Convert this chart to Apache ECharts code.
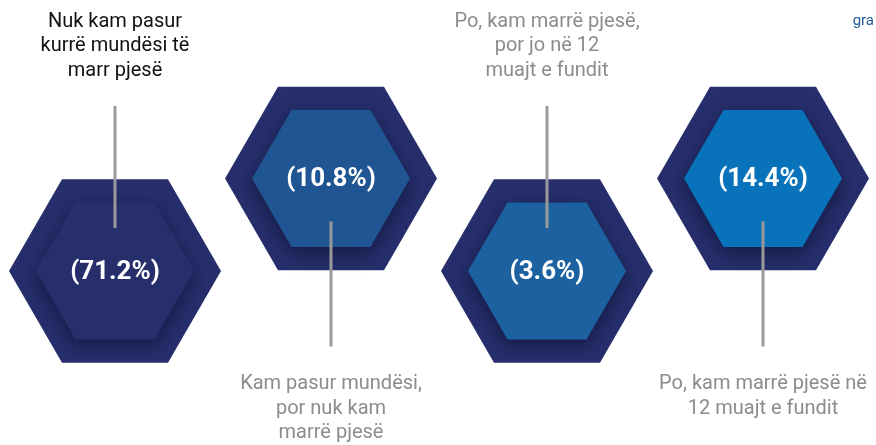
<!DOCTYPE html>
<html>
<head>
    <meta charset="utf-8">
    <title>ECharts</title>
    <script src="https://cdn.jsdelivr.net/npm/echarts@6/dist/echarts.min.js"></script>
    <style>
        html, body { margin: 0; padding: 0; width: 100%; height: 100%; background: #fff; }
    </style>
</head>
<body>
    <div id="main" style="width: 876px;height:445px;"></div>
    <script type="text/javascript">

// data
var categories = [
    'Nuk kam pasur\nkurrë mundësi të\nmarr pjesë',
    'Kam pasur mundësi,\npor nuk kam\nmarrë pjesë',
    'Po, kam marrë pjesë,\npor jo në 12\nmuajt e fundit',
    'Po, kam marrë pjesë në\n12 muajt e fundit'
];
var shares = [71.2, 10.8, 3.6, 14.4];
// 0 = lower row, 1 = upper row
var rows = [0, 1, 0, 1];

var outerColor = '#262f6c';
var innerColors = ['#262f6c', '#1f5592', '#1c62a0', '#0873ba'];
var labelColors = ['#111111', '#8c8c8c', '#8c8c8c', '#8c8c8c'];

function hexPoints(cx, cy, r) {
    var h = r * Math.sqrt(3) / 2;
    return [[cx - r, cy], [cx - r / 2, cy - h], [cx + r / 2, cy - h],
            [cx + r, cy], [cx + r / 2, cy + h], [cx - r / 2, cy + h]];
}

var myChart = echarts.init(document.getElementById('main'));

myChart.setOption({
    title: {
        text: 'gra',
        right: -3,
        top: 9,
        textStyle: { fontFamily: 'Roboto', fontSize: 15, fontWeight: 'normal', color: '#1f5c99' }
    },
    grid: { left: 7, right: 5, top: 178.5, bottom: 174 },
    xAxis: { type: 'category', data: categories, show: false },
    yAxis: { type: 'value', min: 0, max: 1, show: false },
    series: [{
        type: 'custom',
        data: shares.map(function (v, i) { return [i, rows[i], v]; }),
        renderItem: function (params, api) {
            var i = api.value(0);
            var pt = api.coord([i, api.value(1)]);
            var cx = pt[0], cy = pt[1];
            var low = api.value(1) === 0;
            var lineY1 = low ? cy - 165 : cy + 43;
            var lineY2 = low ? cy - 43 : cy + 168;
            return {
                type: 'group',
                children: [
                    { type: 'polygon', shape: { points: hexPoints(cx, cy, 106) },
                      style: { fill: outerColor } },
                    { type: 'polygon', shape: { points: hexPoints(cx, cy, 79) },
                      style: { fill: innerColors[i], shadowBlur: 18, shadowOffsetY: 6,
                               shadowColor: 'rgba(10,12,40,0.6)' } },
                    { type: 'line', shape: { x1: cx, y1: lineY1, x2: cx, y2: lineY2 },
                      style: { stroke: '#9a9a9a', lineWidth: 3 } },
                    { type: 'text', x: cx, y: cy + 1,
                      style: { text: '(' + api.value(2) + '%)', fill: '#ffffff',
                               font: 'bold 26px Roboto', align: 'center', verticalAlign: 'middle' } },
                    { type: 'text', x: cx, y: low ? cy - 188 : cy + 372 - 178.5,
                      style: { text: categories[i], fill: labelColors[i], font: '20px Roboto',
                               lineHeight: 24.5, align: 'center',
                               verticalAlign: low ? 'bottom' : 'top' } }
                ]
            };
        }
    }]
});
</script>
</body>
</html>
